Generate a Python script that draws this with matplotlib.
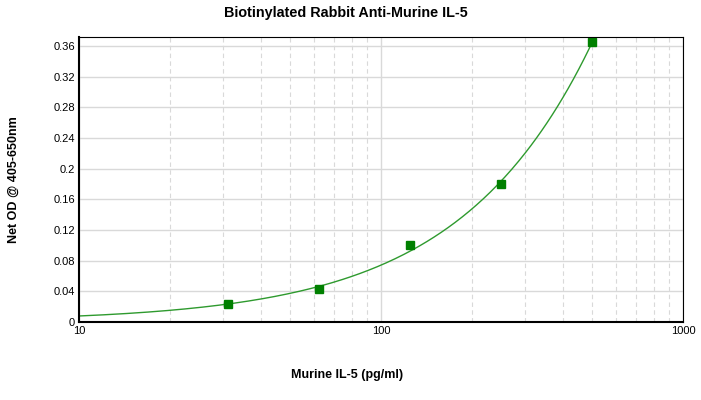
import matplotlib
matplotlib.use("Agg")
import matplotlib.pyplot as plt
from matplotlib.ticker import FixedLocator, NullFormatter, LogLocator
import numpy as np

plt.rcParams['font.family'] = ['Liberation Sans', 'DejaVu Sans']

# standard curve data
conc = [31.25, 62.5, 125, 250, 500]
od = [0.023, 0.043, 0.100, 0.180, 0.365]
y_ticks = [0, 0.04, 0.08, 0.12, 0.16, 0.2, 0.24, 0.28, 0.32, 0.36]
y_tick_labels = ['0', '0.04', '0.08', '0.12', '0.16', '0.2', '0.24', '0.28', '0.32', '0.36']
x_ticks = [10, 100, 1000]
x_tick_labels = ['10', '100', '1000']

# fit a smooth curve through the points
coef = np.polyfit(conc, od, 2)
xs = np.geomspace(10, 560, 300)
ys = np.polyval(coef, xs)

fig = plt.figure(figsize=(7.01, 4.0), dpi=100)
ax = fig.add_axes([79/701, 1 - 322/400, (683 - 79)/701, (322 - 37)/400])

ax.set_xscale('log')
ax.set_xlim(10, 1000)
ax.set_ylim(0, 0.3717)

ax.plot(xs, ys, color='#2e9a2e', linewidth=1)
ax.plot(conc, od, 's', color='#008000', markersize=6)

ax.yaxis.set_major_locator(FixedLocator(y_ticks))
ax.set_yticklabels(y_tick_labels)
ax.xaxis.set_major_locator(FixedLocator(x_ticks))
ax.set_xticklabels(x_tick_labels)
ax.xaxis.set_minor_locator(LogLocator(base=10, subs=np.arange(2, 10)))
ax.xaxis.set_minor_formatter(NullFormatter())

ax.grid(True, axis='y', color='#d9d9d9', linewidth=1)
ax.grid(True, axis='x', which='major', color='#d9d9d9', linewidth=1)
ax.grid(True, axis='x', which='minor', color='#d9d9d9', linewidth=0.8, linestyle=(0, (4, 3)))
ax.set_axisbelow(True)

ax.tick_params(axis='both', which='both', length=0, labelsize=8, colors='black')
ax.tick_params(axis='y', pad=3)
ax.tick_params(axis='x', pad=3)

for s in ax.spines.values():
    s.set_color('black')
    s.set_linewidth(0.8)
ax.spines['left'].set_linewidth(1.5)
ax.spines['bottom'].set_linewidth(1.5)

fig.text(346/701, 1 - 13/400, 'Biotinylated Rabbit Anti-Murine IL-5', ha='center', va='center',
         fontsize=10.4, fontweight='bold')
fig.text(14/701, 1 - 180/400, 'Net OD @ 405-650nm', ha='center', va='center', rotation=90,
         fontsize=9, fontweight='bold')
fig.text(347/701, 1 - 375/400, 'Murine IL-5 (pg/ml)', ha='center', va='center',
         fontsize=9, fontweight='bold')

fig.savefig('out.png', dpi=100)
